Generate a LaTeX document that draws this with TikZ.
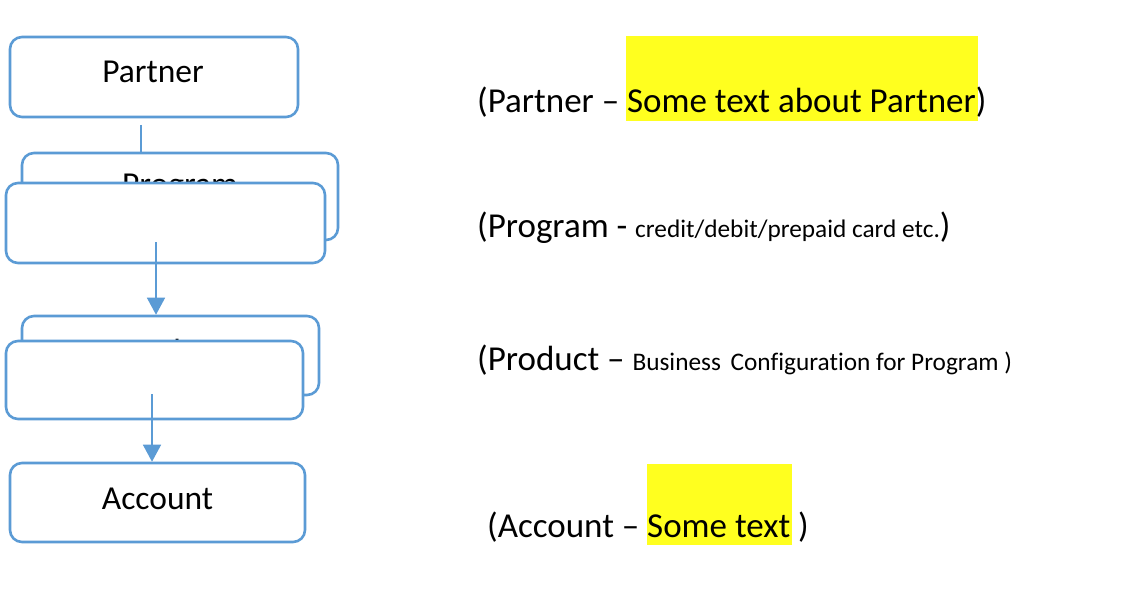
\documentclass[tikz,border=0pt]{standalone}
\usepackage{fontspec}
\setmainfont{Carlito}[Ligatures=NoCommon]
\usetikzlibrary{arrows.meta}
\definecolor{boxblue}{HTML}{5B9BD5}
\definecolor{hl}{rgb}{1,1,0.12}
\newcommand{\bigf}{\fontsize{35}{42}\selectfont}
\newcommand{\boxf}{\fontsize{33.5}{40}\selectfont}
\newcommand{\smallf}{\fontsize{25.3}{30}\selectfont}
\tikzset{
  ubox/.style={draw=boxblue, line width=2.6pt, rounded corners=12pt, fill=white, inner sep=0pt},
  boxtext/.style={inner sep=0pt, anchor=base, font=\boxf},
  desc/.style={inner sep=0pt, anchor=base west, font=\bigf},
  conn/.style={draw=boxblue, line width=1.5pt},
  arr/.style={conn, -{Triangle[width=18pt,length=17pt]}},
  hlbox/.style={fill=hl, draw=none}
}
\begin{document}
\begin{tikzpicture}[x=1pt,y=-1pt]
\useasboundingbox (0,0) rectangle (1134,596);
\fill[white] (0,0) rectangle (1134,596);

% Partner
\node[ubox, minimum width=288pt, minimum height=80pt] (partner) at (154,77) {};
\node[boxtext] (partnert) at (153,83) {Partner};

% connector partner -> program
\coordinate (c1) at (141,125);

% Program (back and front)
\node[ubox, minimum width=316pt, minimum height=87pt] (progback) at (180,196.5) {};
\node[boxtext] (progbackt) at (180,196) {Program};
\draw[conn] (c1) -- (c1 |- progback.north);
\node[ubox, minimum width=319pt, minimum height=80pt] (progfront) at (165.5,223) {};

% Product (back and front)
\node[ubox, minimum width=297pt, minimum height=79pt] (prodback) at (170.5,355.5) {};
\node[boxtext] (prodbackt) at (170.5,362) {Product};
\node[ubox, minimum width=297pt, minimum height=78pt] (prodfront) at (154.5,380) {};

\coordinate (c2) at (156,242);
\draw[arr] (c2) -- (c2 |- prodback.north);

% Account
\node[ubox, minimum width=295pt, minimum height=79pt] (acct) at (157.5,502.5) {};
\node[boxtext] (acctt) at (157.5,509) {Account};
\coordinate (c3) at (152,394);
\draw[arr] (c3) -- (c3 |- acct.north);

% Highlights
\fill[hlbox] (626,36) rectangle (978,121);
\fill[hlbox] (647,464) rectangle (792,545);

% Descriptions
\node[desc] (d1) at (477,113) {(Partner – Some text about Partner)};
\node[desc] (d2) at (477,237) {(Program - {\smallf credit/debit/prepaid card etc.})};
\node[desc] (d3) at (477,370) {(Product – {\smallf Business\hspace{4pt} Configuration for Program )}};
\node[desc] (d4) at (487,537) {(Account – Some text )};
\end{tikzpicture}
\end{document}
